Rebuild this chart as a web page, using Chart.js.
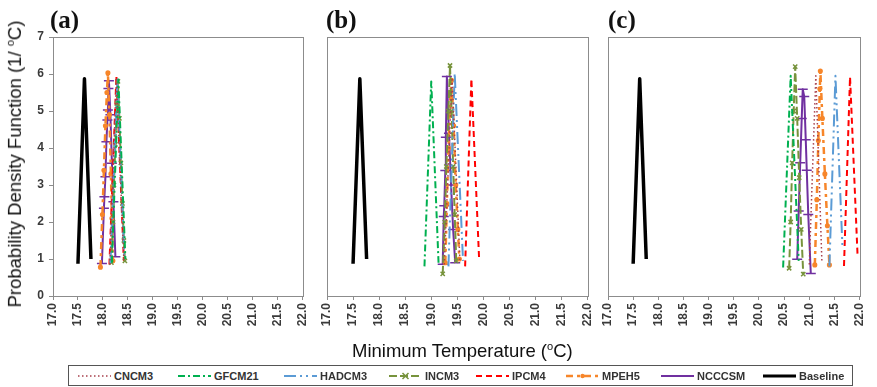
<!DOCTYPE html>
<html>
<head>
<meta charset="utf-8">
<script src="https://cdn.jsdelivr.net/npm/chart.js@4"></script>
<style>
  body { margin: 0; width: 877px; height: 387px; background: #fff; position: relative; overflow: hidden;
         font-family: "Liberation Sans", Arial, sans-serif; }
  canvas { position: absolute; top: 0; }
  .plabel { position: absolute; top: 6px; font: bold 25px "Liberation Serif", "Times New Roman", serif; color: #111; }
  #xtitle { position: absolute; left: 352px; top: 340px; font-size: 18.5px; color: #111; white-space: nowrap; }
  #ytitle { position: absolute; left: 15px; top: 164px; font-size: 18.5px; color: #111; white-space: nowrap;
            transform: translate(-50%, -50%) rotate(-90deg); }
  sup { font-size: 0.6em; }
  #legend { position: absolute; left: 68px; top: 365px; width: 785px; height: 21px; border: 1px solid #555; box-sizing: border-box; }
  .li { position: absolute; top: 0; height: 19px; display: flex; align-items: center; font-size: 11px; font-weight: bold; color: #333; }
  .li svg { margin-right: 3px; }
</style>
</head>
<body>
<canvas id="chart-a" width="320" height="340" style="left:0px"></canvas>
<canvas id="chart-b" width="290" height="340" style="left:315px"></canvas>
<canvas id="chart-c" width="279" height="340" style="left:598px"></canvas>
<div class="plabel" style="left:50px">(a)</div>
<div class="plabel" style="left:326px">(b)</div>
<div class="plabel" style="left:608px">(c)</div>
<div id="ytitle">Probability Density Function (1/ <sup>o</sup>C)</div>
<div id="xtitle">Minimum Temperature (<sup>o</sup>C)</div>
<div id="legend"></div>
<script>
const seriesNames = ["CNCM3", "GFCM21", "HADCM3", "INCM3", "IPCM4", "MPEH5", "NCCCSM", "Baseline"];
const xTicks = [17.0, 17.5, 18.0, 18.5, 19.0, 19.5, 20.0, 20.5, 21.0, 21.5, 22.0];
const yTicks = [0, 1, 2, 3, 4, 5, 6, 7];

// [temperature, pdf] pairs
const baseline = [[17.5, 0.87], [17.63, 5.87], [17.76, 1.0]];

// panel (a)
const aCNCM3 = [[18.14, 0.85], [18.27, 5.9], [18.42, 0.95]];
const aGFCM21 = [[18.18, 0.9], [18.31, 5.85], [18.45, 1.0]];
const aHADCM3 = [[18.15, 0.88], [18.29, 5.85], [18.43, 1.0]];
const aINCM3 = [[18.17, 0.9], [18.2, 2.0], [18.22, 3.0], [18.25, 4.1], [18.28, 5.2], [18.3, 5.8],
                [18.33, 4.8], [18.36, 3.6], [18.39, 2.5], [18.42, 1.5], [18.44, 0.95]];
const aIPCM4 = [[18.13, 0.85], [18.27, 5.95], [18.42, 0.95]];
const aMPEH5 = [[17.95, 0.78], [17.99, 2.2], [18.02, 3.4], [18.05, 4.6], [18.08, 5.5], [18.1, 6.03],
                [18.13, 4.9], [18.16, 3.3], [18.18, 2.1], [18.2, 0.95]];
const aNCCCSM = [[17.98, 0.88], [18.02, 2.37], [18.03, 2.68], [18.05, 3.22], [18.07, 4.17], [18.09, 4.76],
                 [18.1, 5.03], [18.11, 5.61], [18.12, 5.82], [18.15, 4.9], [18.18, 3.59], [18.21, 2.55], [18.25, 1.06]];

// panel (b)
const bCNCM3 = [[19.25, 0.85], [19.4, 5.9], [19.55, 0.95]];
const bGFCM21 = [[18.87, 0.8], [19.0, 5.8], [19.14, 0.9]];
const bHADCM3 = [[19.33, 0.8], [19.45, 6.02], [19.61, 0.95]];
const bINCM3 = [[19.22, 0.6], [19.26, 2.0], [19.29, 3.5], [19.33, 5.0], [19.36, 6.23], [19.39, 5.0],
                [19.42, 3.5], [19.45, 2.2], [19.48, 0.95]];
const bIPCM4 = [[19.65, 0.8], [19.77, 5.87], [19.92, 0.95]];
const bMPEH5 = [[19.27, 0.9], [19.3, 2.5], [19.33, 4.0], [19.37, 5.5], [19.39, 5.83], [19.43, 4.6],
                [19.47, 3.0], [19.51, 1.8], [19.54, 1.0]];
const bNCCCSM = [[19.22, 0.86], [19.24, 2.15], [19.25, 2.44], [19.27, 3.39], [19.28, 4.29], [19.3, 5.93],
                 [19.34, 4.4], [19.38, 3.0], [19.42, 1.8], [19.46, 0.9]];

// panel (c)
const cCNCM3 = [[21.0, 0.85], [21.13, 5.95], [21.25, 0.95]];
const cGFCM21 = [[20.48, 0.77], [20.63, 5.95], [20.79, 0.95]];
const cHADCM3 = [[21.4, 0.8], [21.52, 5.95], [21.66, 1.3]];
const cINCM3 = [[20.6, 0.75], [20.63, 2.0], [20.66, 3.6], [20.69, 5.0], [20.72, 6.2], [20.76, 4.8],
                [20.8, 3.2], [20.84, 1.8], [20.88, 0.59]];
const cIPCM4 = [[21.69, 0.81], [21.81, 5.92], [21.96, 1.08]];
const cMPEH5 = [[21.11, 0.84], [21.15, 2.6], [21.18, 4.2], [21.21, 5.6], [21.22, 6.08], [21.26, 4.8],
                [21.31, 3.3], [21.36, 1.9], [21.4, 0.84]];
const cNCCCSM = [[20.76, 0.99], [20.79, 2.3], [20.82, 3.6], [20.85, 4.8], [20.87, 5.59], [20.9, 5.39],
                 [20.93, 4.22], [20.95, 3.4], [20.98, 2.2], [21.03, 0.61]];

const styles = {
  CNCM3:    { color: "#a8404c", width: 1.5, dash: [1.5, 2.5] },
  GFCM21:   { color: "#00b050", width: 2, dash: [7, 3, 2, 3] },
  HADCM3:   { color: "#5b9bd5", width: 2, dash: [12, 4, 2, 4, 2, 4] },
  INCM3:    { color: "#77933c", width: 2, dash: [8, 3], point: "crossRot", radius: 3 },
  IPCM4:    { color: "#ff0000", width: 2, dash: [6, 4] },
  MPEH5:    { color: "#f7862a", width: 2.5, dash: [7, 4, 3, 4], point: "circle", radius: 1.8 },
  NCCCSM:   { color: "#7030a0", width: 2, dash: [], point: "line", radius: 5 },
  Baseline: { color: "#000000", width: 3.5, dash: [] },
};

const boxPlugin = {
  id: "box",
  beforeDatasetsDraw(chart) {
    const a = chart.chartArea;
    const ctx = chart.ctx;
    ctx.save();
    ctx.strokeStyle = "#8c8c8c";
    ctx.lineWidth = 1;
    ctx.strokeRect(Math.round(a.left) + 0.5, Math.round(a.top) + 0.5, Math.round(a.right - a.left), Math.round(a.bottom - a.top));
    ctx.restore();
  },
};

function makePanel(id, series, showY, padLeft, padRight) {
  const datasets = seriesNames.map((name, i) => {
    const s = styles[name];
    return {
      label: name,
      data: series[i].map(([x, y]) => ({ x, y })),
      showLine: true,
      borderColor: s.color,
      backgroundColor: s.color,
      borderWidth: s.width,
      borderDash: s.dash,
      borderJoinStyle: "round",
      borderCapStyle: "butt",
      pointStyle: s.point || "circle",
      pointRadius: s.point ? s.radius : 0,
      pointBorderColor: s.color,
      pointBackgroundColor: s.color,
      pointBorderWidth: 1.5,
      tension: 0,
    };
  });
  return new Chart(document.getElementById(id), {
    type: "scatter",
    data: { datasets },
    plugins: [boxPlugin],
    options: {
      responsive: false,
      animation: false,
      layout: { padding: { top: 37, left: padLeft, right: padRight, bottom: 0 } },
      plugins: { legend: { display: false }, tooltip: { enabled: false } },
      scales: {
        x: {
          type: "linear",
          min: xTicks[0],
          max: xTicks[xTicks.length - 1],
          afterBuildTicks: (scale) => { scale.ticks = xTicks.map((v) => ({ value: v })); },
          afterFit: (scale) => { scale.height = 44; },
          ticks: {
            autoSkip: false,
            minRotation: 90,
            maxRotation: 90,
            padding: 3,
            color: "#3a3a3a",
            font: { family: "Liberation Sans", size: 12, weight: "bold" },
            callback: (v) => Number(v).toFixed(1),
          },
          grid: { drawOnChartArea: false, tickLength: 4, color: "#8c8c8c" },
          border: { display: false },
        },
        y: {
          display: showY,
          min: yTicks[0],
          max: yTicks[yTicks.length - 1],
          afterBuildTicks: (scale) => { scale.ticks = yTicks.map((v) => ({ value: v })); },
          afterFit: (scale) => { scale.width = showY ? 53 : 0; },
          ticks: {
            padding: 5,
            color: "#3a3a3a",
            font: { family: "Liberation Sans", size: 12, weight: "bold" },
          },
          grid: { drawOnChartArea: false, tickLength: 4, color: "#8c8c8c" },
          border: { display: false },
        },
      },
    },
  });
}

makePanel("chart-a", [aCNCM3, aGFCM21, aHADCM3, aINCM3, aIPCM4, aMPEH5, aNCCCSM, baseline], true, 0, 13);
makePanel("chart-b", [bCNCM3, bGFCM21, bHADCM3, bINCM3, bIPCM4, bMPEH5, bNCCCSM, baseline], false, 12, 14);
makePanel("chart-c", [cCNCM3, cGFCM21, cHADCM3, cINCM3, cIPCM4, cMPEH5, cNCCCSM, baseline], false, 10, 9);

// legend along the bottom
const legendLeft = [9, 109, 215, 320, 407, 497, 592, 694];
const legend = document.getElementById("legend");
seriesNames.forEach((name, i) => {
  const s = styles[name];
  const item = document.createElement("div");
  item.className = "li";
  item.style.left = legendLeft[i] + "px";
  const w = 33;
  let marker = "";
  if (s.point === "circle") marker = `<circle cx="${w / 2}" cy="5" r="2.2" fill="${s.color}"/>`;
  if (s.point === "crossRot") marker = `<path d="M${w / 2 - 3} 2 L${w / 2 + 3} 8 M${w / 2 + 3} 2 L${w / 2 - 3} 8" stroke="${s.color}" stroke-width="1.5"/>`;
  item.innerHTML =
    `<svg width="${w}" height="10"><line x1="0" y1="5" x2="${w}" y2="5" stroke="${s.color}" ` +
    `stroke-width="${Math.min(s.width, 3)}" stroke-dasharray="${s.dash.join(" ")}"/>${marker}</svg>`;
  const label = document.createElement("span");
  label.textContent = name;
  item.appendChild(label);
  legend.appendChild(item);
});
</script>
</body>
</html>
